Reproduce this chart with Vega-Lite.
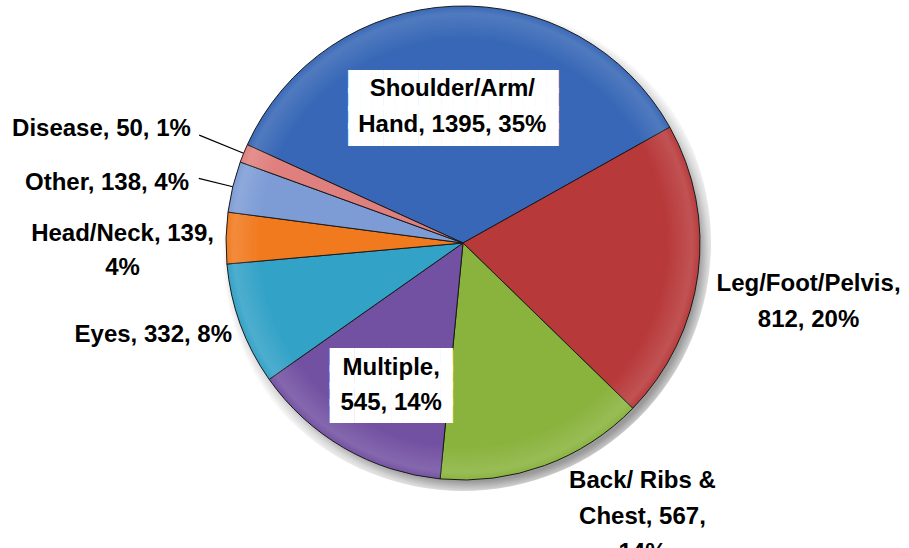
{
  "$schema": "https://vega.github.io/schema/vega-lite/v6.json",
  "width": 892,
  "height": 486,
  "autosize": {"type": "none"},
  "padding": {"left": 17, "top": 0, "right": 0, "bottom": 62},
  "background": "white",
  "config": {"view": {"stroke": null}},
  "data": {
    "values": [
      {"ord": 1, "cat": "Shoulder/Arm/Hand", "n": 1395, "label": "Shoulder/Arm/\nHand, 1395, 35%"},
      {"ord": 2, "cat": "Leg/Foot/Pelvis", "n": 812, "label": "Leg/Foot/Pelvis,\n812, 20%"},
      {"ord": 3, "cat": "Back/ Ribs & Chest", "n": 567, "label": "Back/ Ribs &\nChest, 567,\n14%"},
      {"ord": 4, "cat": "Multiple", "n": 545, "label": "Multiple,\n545, 14%"},
      {"ord": 5, "cat": "Eyes", "n": 332, "label": "Eyes, 332, 8%"},
      {"ord": 6, "cat": "Head/Neck", "n": 139, "label": "Head/Neck, 139,\n4%"},
      {"ord": 7, "cat": "Other", "n": 138, "label": "Other, 138, 4%"},
      {"ord": 8, "cat": "Disease", "n": 50, "label": "Disease, 50, 1%"}
    ]
  },
  "layer": [
    {
      "transform": [{"filter": "datum.ord === 1"}],
      "mark": {"type": "arc", "theta": 0, "theta2": 6.2832, "radius": 248,
        "fill": {"gradient": "radial", "x1": 0.515, "y1": 0.52, "r1": 0, "x2": 0.515, "y2": 0.52, "r2": 0.5,
          "stops": [{"offset": 0, "color": "#8a8a8a"}, {"offset": 0.92, "color": "#9a9a9a"}, {"offset": 0.96, "color": "#d8d8d8"}, {"offset": 1, "color": "#ffffff"}]}},
      "encoding": {}
    },
    {
      "mark": {"type": "arc", "radius": 237, "stroke": "#1a1a1a", "strokeWidth": 1},
      "encoding": {
        "theta": {"field": "n", "type": "quantitative", "stack": true, "scale": {"range": [-1.1432, 5.14]}},
        "order": {"field": "ord", "type": "quantitative"},
        "color": {"field": "cat", "type": "nominal", "legend": null,
          "scale": {"domain": ["Shoulder/Arm/Hand", "Leg/Foot/Pelvis", "Back/ Ribs & Chest", "Multiple", "Eyes", "Head/Neck", "Other", "Disease"],
                    "range": ["#3767b6", "#b8393a", "#89b33d", "#7351a2", "#33a2c7", "#f17a1f", "#7d9cd6", "#e0807e"]}}
      }
    },
    {
      "transform": [{"filter": "datum.ord === 1"}],
      "mark": {"type": "arc", "theta": 0, "theta2": 6.2832, "radius": 236.5,
        "fill": {"gradient": "radial", "x1": 0.5, "y1": 0.5, "r1": 0, "x2": 0.5, "y2": 0.5, "r2": 0.5,
          "stops": [{"offset": 0, "color": "rgba(255,255,255,0)"}, {"offset": 0.86, "color": "rgba(255,255,255,0)"}, {"offset": 0.97, "color": "rgba(255,255,255,0.13)"}, {"offset": 1, "color": "rgba(255,255,255,0.02)"}]}},
      "encoding": {}
    },
    {
      "mark": {"type": "arc", "radius": 285, "radius2": 237, "padAngle": 0.4, "fill": "white", "fillOpacity": 0, "strokeWidth": 1.2},
      "encoding": {
        "theta": {"field": "n", "type": "quantitative", "stack": true},
        "order": {"field": "ord", "type": "quantitative"},
        "stroke": {"condition": {"test": "datum.cat === 'Disease'", "value": "black"}, "value": "transparent"}}
    },
    {
      "mark": {"type": "arc", "radius": 272, "radius2": 237, "padAngle": 0.4, "fill": "white", "fillOpacity": 0, "strokeWidth": 1.2},
      "encoding": {
        "theta": {"field": "n", "type": "quantitative", "stack": true},
        "order": {"field": "ord", "type": "quantitative"},
        "stroke": {"condition": {"test": "datum.cat === 'Other'", "value": "black"}, "value": "transparent"}}
    },
    {
      "mark": {"type": "text", "radius": 137, "dx": -4, "dy": -24, "font": "DejaVu Sans Mono", "fontSize": 19.4, "lineHeight": 17.7, "lineBreak": "\n", "baseline": "middle", "align": "center", "fill": "white"},
      "encoding": {
        "theta": {"field": "n", "type": "quantitative", "stack": true},
        "order": {"field": "ord", "type": "quantitative"},
        "text": {"condition": {"test": "datum.cat === 'Shoulder/Arm/Hand'", "value": "██████████████████\n██████████████████\n██████████████████\n██████████████████"}, "value": ""}}
    },
    {
      "mark": {"type": "text", "radius": 162.6, "dx": 10, "dy": -23, "font": "DejaVu Sans Mono", "fontSize": 20.4, "lineHeight": 17.2, "lineBreak": "\n", "baseline": "middle", "align": "center", "fill": "white"},
      "encoding": {
        "theta": {"field": "n", "type": "quantitative", "stack": true},
        "order": {"field": "ord", "type": "quantitative"},
        "text": {"condition": {"test": "datum.cat === 'Multiple'", "value": "██████████\n██████████\n██████████\n██████████"}, "value": ""}}
    },
    {
      "mark": {"type": "text", "radius": 137, "dx": -5, "dy": -17, "font": "Liberation Sans", "fontSize": 24, "fontWeight": "bold", "lineHeight": 36, "lineBreak": "\n", "baseline": "middle", "align": "center", "fill": "black"},
      "encoding": {
        "theta": {"field": "n", "type": "quantitative", "stack": true},
        "order": {"field": "ord", "type": "quantitative"},
        "text": {"condition": {"test": "datum.cat === 'Shoulder/Arm/Hand'", "field": "label"}, "value": ""}}
    },
    {
      "mark": {"type": "text", "radius": 162.6, "dx": 10, "dy": -16, "font": "Liberation Sans", "fontSize": 24, "fontWeight": "bold", "lineHeight": 35, "lineBreak": "\n", "baseline": "middle", "align": "center", "fill": "black"},
      "encoding": {
        "theta": {"field": "n", "type": "quantitative", "stack": true},
        "order": {"field": "ord", "type": "quantitative"},
        "text": {"condition": {"test": "datum.cat === 'Multiple'", "field": "label"}, "value": ""}}
    },
    {
      "mark": {"type": "text", "radius": 348.5, "dy": -4, "font": "Liberation Sans", "fontSize": 24, "fontWeight": "bold", "lineHeight": 36, "lineBreak": "\n", "baseline": "middle", "align": "center", "fill": "black"},
      "encoding": {
        "theta": {"field": "n", "type": "quantitative", "stack": true},
        "order": {"field": "ord", "type": "quantitative"},
        "text": {"condition": {"test": "datum.cat === 'Leg/Foot/Pelvis'", "field": "label"}, "value": ""}}
    },
    {
      "mark": {"type": "text", "radius": 327, "dx": 67, "dy": -69, "font": "Liberation Sans", "fontSize": 24, "fontWeight": "bold", "lineHeight": 36, "lineBreak": "\n", "baseline": "middle", "align": "center", "fill": "black"},
      "encoding": {
        "theta": {"field": "n", "type": "quantitative", "stack": true},
        "order": {"field": "ord", "type": "quantitative"},
        "text": {"condition": {"test": "datum.cat === 'Back/ Ribs & Chest'", "field": "label"}, "value": ""}}
    },
    {
      "mark": {"type": "text", "radius": 246, "dy": 7, "font": "Liberation Sans", "fontSize": 24, "fontWeight": "bold", "lineBreak": "\n", "baseline": "middle", "align": "right", "fill": "black"},
      "encoding": {
        "theta": {"field": "n", "type": "quantitative", "stack": true},
        "order": {"field": "ord", "type": "quantitative"},
        "text": {"condition": {"test": "datum.cat === 'Eyes'", "field": "label"}, "value": ""}}
    },
    {
      "mark": {"type": "text", "radius": 340.5, "dy": -2, "font": "Liberation Sans", "fontSize": 24, "fontWeight": "bold", "lineHeight": 34, "lineBreak": "\n", "baseline": "middle", "align": "center", "fill": "black"},
      "encoding": {
        "theta": {"field": "n", "type": "quantitative", "stack": true},
        "order": {"field": "ord", "type": "quantitative"},
        "text": {"condition": {"test": "datum.cat === 'Head/Neck'", "field": "label"}, "value": ""}}
    },
    {
      "mark": {"type": "text", "radius": 282, "dy": 7, "font": "Liberation Sans", "fontSize": 24, "fontWeight": "bold", "lineBreak": "\n", "baseline": "middle", "align": "right", "fill": "black"},
      "encoding": {
        "theta": {"field": "n", "type": "quantitative", "stack": true},
        "order": {"field": "ord", "type": "quantitative"},
        "text": {"condition": {"test": "datum.cat === 'Other'", "field": "label"}, "value": ""}}
    },
    {
      "mark": {"type": "text", "radius": 294, "dy": -3, "font": "Liberation Sans", "fontSize": 24, "fontWeight": "bold", "lineBreak": "\n", "baseline": "middle", "align": "right", "fill": "black"},
      "encoding": {
        "theta": {"field": "n", "type": "quantitative", "stack": true},
        "order": {"field": "ord", "type": "quantitative"},
        "text": {"condition": {"test": "datum.cat === 'Disease'", "field": "label"}, "value": ""}}
    }
  ]
}
